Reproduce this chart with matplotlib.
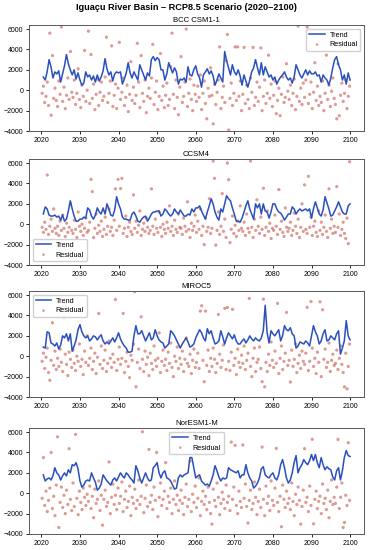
import numpy as np
import matplotlib
matplotlib.use("Agg")
import matplotlib.pyplot as plt
import matplotlib as mpl

mpl.rcParams['font.family'] = ['Liberation Sans', 'DejaVu Sans']
mpl.rcParams['xtick.labelsize'] = 5
mpl.rcParams['ytick.labelsize'] = 5
mpl.rcParams['xtick.major.size'] = 2.5
mpl.rcParams['ytick.major.size'] = 2.5
mpl.rcParams['xtick.major.width'] = 0.6
mpl.rcParams['ytick.major.width'] = 0.6
mpl.rcParams['xtick.major.pad'] = 1.5
mpl.rcParams['ytick.major.pad'] = 1.5
mpl.rcParams['axes.linewidth'] = 0.7
mpl.rcParams['axes.edgecolor'] = '0.35'

TITLE = "Iguaçu River Basin – RCP8.5 Scenario (2020–2100)"
models = ["BCC CSM1-1", "CCSM4", "MIROC5", "NorESM1-M"]
legend_loc = ["upper right", "lower left", "upper left", "upper center"]

# trend, half-year steps 2020.5 .. 2100.0
trend_bcc = [
    1300, 1000, 1800, 3000, 2300, 1200, 1800, 1600, 1900, 800,
    1600, 2400, 3500, 2600, 2000, 1500, 2000, 1100, 1700, 1000,
    500, 700, 1800, 1300, 1500, 1000, 1400, 800, 1500, 900,
    1300, 1900, 3100, 2100, 1500, 1800, 900, 1600, 1800, 1700,
    1800, 600, 1100, 1700, 2700, 1700, 1200, 1800, 1400, 1000,
    2500, 2000, 1500, 1000, 1700, 1400, 3000, 3300, 2900, 3200,
    3000, 2000, 2000, 1000, 1600, 2700, 2200, 1700, 2200, 1800,
    600, 1100, 1000, 1200, 800, 2300, 1500, 1400, 2000, 2400,
    1600, 1200, 300, 1500, 1800, 2100, 1600, 1900, 1400, 500,
    1000, 1600, 1200, 800, 3800, 2900, 2200, 1500, 2500, 1800,
    1500, 2000, 1400, 500, 1500, 900, 300, 1000, 1800, 2200,
    3000, 2200, 1500, 2700, 1500, 2300, 1800, 1300, 1500, 1000,
    1300, 600, 1000, 1300, 1500, 1800, 1300, 1000, 1200, 700,
    1300, 2500, 2000, 1500, 1200, 1600, 2000, 1500, 1900, 1600,
    1600, 1800, 1400, 1500, 800, 1500, 1200, 1000, 500, 1200,
    2200, 3000, 3300, 2500, 2000, 1000, 1500, 600, 1700, 1000,
]
trend_ccsm = [
    1000, 1700, 1500, 900, 800, 800, 900, 700, 800, 400,
    900, 300, 500, 1300, 2300, 1500, 800, 300, 300, 500,
    500, 700, 600, 1600, 1400, 800, 500, 900, 1600, 1200,
    1000, 1600, 1000, 2000, 1500, 900, 800, 1400, 2700, 2000,
    1500, 700, 500, 500, 400, 400, 1000, 1200, 800, 300,
    200, 500, 700, 800, 300, 600, 1000, 1200, 1200, 1300,
    1300, 800, 1000, 1500, 1300, 1000, 800, 1000, 1500, 1200,
    1000, 1400, 1100, 800, 800, 1000, 900, 1500, 1200, 1600,
    1600, 1800, 1300, 900, 500, 1200, 1800, 2500, 2000, 1200,
    700, 400, 1500, 1200, 2000, 2800, 2500, 2300, 1600, 1000,
    300, 300, 200, 600, 1200, 1800, 2300, 1500, 1000, 500,
    2000, 1600, 2000, 1000, 2000, 1300, 1200, 600, 1200, 2000,
    2000, 1500, 1200, 1100, 800, 400, 700, 1000, 1000, 1700,
    1500, 1000, 1300, 1500, 1300, 1400, 1500, 1300, 1500, 600,
    1500, 2200, 1600, 1000, 800, 1400, 2700, 2100, 1500, 800,
    900, 1300, 1700, 2200, 1700, 1200, 1000, 1000, 1800, 2000,
]
trend_miroc = [
    900, 800, 2400, 2300, 1300, 1200, 1000, 1300, 700, 1100,
    2000, 1800, 2200, 1500, 2200, 500, 1000, 1600, 2600, 3100,
    2400, 2000, 1800, 2000, 1500, 1700, 2000, 1900, 1600, 1900,
    2100, 1500, 1200, 1400, 1200, 1500, 1800, 1400, 1800, 2300,
    1700, 1300, 1000, 800, 400, 400, 500, 2000, 3000, 2200,
    2200, 2500, 2000, 1500, 1900, 2300, 1600, 1800, 2600, 2000,
    1600, 1400, 1300, 800, 1000, 1200, 2500, 2300, 2000, 1600,
    1200, 800, 1200, 1500, 1800, 1400, 900, 1000, 1200, 1800,
    2200, 2600, 2300, 1800, 1500, 2700, 2200, 2500, 1800, 1200,
    1300, 1500, 2500, 1900, 1200, 1800, 2300, 2000, 1700, 2100,
    1500, 1200, 1200, 1500, 1700, 1300, 1600, 2000, 1700, 1500,
    1800, 1600, 1500, 1800, 2500, 5000, 2300, 1300, 2500, 2200,
    2000, 2300, 2600, 1500, 2000, 3000, 2600, 2500, 2800, 2200,
    2000, 800, 1000, 1400, 1300, 1200, 1500, 1300, 1000, 2000,
    3000, 2400, 2000, 1200, 1500, 2200, 2600, 1500, 1600, 2000,
    1800, 1600, 2200, 2500, 200, 800, 1500, 3500, 2000, 1600,
]
trend_nor = [
    1800, 1200, 1400, 1500, 1300, 1700, 2500, 2000, 1800, 1300,
    1700, 2000, 1700, 2300, 2000, 2800, 2700, 3000, 2400, 1200,
    600, 800, 1200, 1300, 1200, 2000, 1500, 1100, 300, 500,
    900, 1800, 1500, 1200, 1000, 800, 1300, 1500, 1200, 1600,
    2000, 1700, 1500, 2000, 1800, 1500, 1300, 1000, 2700, 2200,
    1500, 1000, 1500, 2000, 1500, 1200, 1300, 2500, 2700, 3000,
    2000, 1500, 2000, 2200, 1500, 1400, 1200, 800, 400, 500,
    1500, 1800, 1600, 1800, 1900, 2000, 3500, 3500, 2500, 1500,
    1700, 1800, 1200, 1000, 800, 900, 700, 1200, 1800, 2700,
    2200, 1600, 1200, 1500, 1400, 1500, 2500, 2300, 2200, 2100,
    2000, 2200, 1500, 1800, 1800, 2800, 2000, 1500, 1200, 500,
    700, 1000, 1500, 2400, 2600, 1800, 1600, 1500, 1800, 2000,
    1500, 1300, 1800, 2800, 3300, 2500, 1500, 1000, 1300, 2000,
    3000, 3700, 2000, 2500, 2800, 3300, 3000, 2800, 3200, 3800,
    3200, 3800, 3000, 2500, 3500, 2800, 2300, 2600, 2400, 2300,
    1600, 1300, 2200, 2500, 1300, 2200, 3500, 4200, 3700, 3600,
]

# residuals, one point every 4 months from 2020.2
resid_bcc = [
    -300, 400, -1200, -600, 800, -1500, 5600, -2450, 3400, -800, 200, -1000,
    -1600, 900, -400, 6200, -1100, 300, -1800, -500, 1200, -900, 3800, -200,
    -700, 1000, -1400, -300, 2100, -900, -1700, 500, -600, 3900, -1100, 0,
    5800, -1300, 3500, -800, 600, -1900, -400, 1100, -1500, -200, 800, -1000,
    -600, 1300, 5200, -1200, -300, 900, 4350, -1600, -500, 600, -1800, 200,
    4700, -900, -200, 1200, -1500, -700, 500, -2100, -400, 2800, -1000, 300,
    -1300, -500, 4600, 800, -1700, 3400, -300, -1100, 1000, -2200, -600, 200,
    -800, 1200, 4500, -1400, -200, 900, -1900, -600, 3600, -1000, 400, -1700,
    -500, 700, -1500, -900, 2300, 5600, -400, -1800, 1000, -700, -2400, 300,
    3300, -1200, -600, 800, 6000, -1600, -300, 1100, -900, -2000, 500, -400,
    -1100, 400, -700, 1500, -1900, -300, 900, -1300, -2800, 200, -600, 2200,
    -500, -3300, 600, -1400, -200, 1000, 4250, -1800, -700, 400, -1200, 2900,
    5470, -3900, -800, 700, -1500, -300, 4250, -1000, 4250, -600, 900, -2000,
    -400, 4200, -1300, 500, -900, -1800, 1200, -200, 4200, -1500, -700, 800,
    -1100, 300, 4150, -2000, -600, 1000, -1300, -300, 3440, -800, 600, -1600,
    -500, 900, -2300, -1000, 200, -2500, -400, 1300, -1200, -700, 2600, -100,
    -900, 500, -1500, -300, 1100, -1900, -600, 6300, -1100, 200, -1400, 700,
    -700, 1000, 6200, -1300, -400, 800, -1800, -200, 2700, -1000, 400, -1500,
    -600, -1200, 900, -2000, -300, 3440, -900, 500, -1600, -100, 1200, -800,
    -1400, -2800, 2600, -2500, -500, 700, -1100, -300, 1000, -1800, -600, 400,
]
resid_ccsm = [
    -300, -800, 200, -500, 4830, -1000, -200, 500, -700, 1500, -400, -900,
    -200, -1100, 300, -600, 900, -400, -1200, 100, -800, -300, 2000, -600,
    -900, 400, -500, -1300, 1200, -200, -700, 0, -1100, -400, 600, -800,
    -600, 200, 4400, 3200, -1300, -400, 1000, -900, -100, -700, 300, -1200,
    -500, 700, -1000, -200, 1500, -700, -300, -1100, 400, 3470, -600, 4400,
    -200, 3500, 4500, -900, -400, 800, -1200, -300, 200, -700, -1000, 2880,
    -400, 300, -800, -100, 1300, -1100, -500, 100, -700, 600, -300, -900,
    -600, 3470, -200, -1000, 500, -400, -800, 1200, -300, -1200, 0, -500,
    -900, 200, -400, 1800, -700, -200, -1100, 400, -500, -800, 1000, -300,
    -400, -1000, 600, -200, -700, 2200, -500, -1300, 100, -600, -200, 900,
    -800, 300, -500, 1500, -1100, -200, -2000, 600, -700, -300, 2500, -900,
    -400, 6200, 4500, -2050, -600, 1200, -1000, -200, 3000, -700, 500, -1300,
    6000, 4370, -1800, -500, 800, -900, -100, -1200, 300, -600, 1800, -400,
    -700, 200, -1100, 1000, -400, -800, 6200, -300, -1300, 500, -600, 2400,
    -200, -900, 700, -500, 3530, -1100, -300, 1300, -700, 100, -1400, -400,
    -600, 900, -200, -1000, 3400, -500, 300, -800, -1200, 1600, -300, -700,
    -400, 200, -1100, -600, 1100, -200, -900, 500, -1300, -300, 2000, -700,
    3860, -500, -900, 4700, -300, 700, -1100, -200, 300, -800, -1200, 1300,
    -600, 200, -1000, -300, 900, -700, -1300, 3470, -400, 500, -900, -200,
    -800, 3700, -300, 1000, -1100, -500, 200, -900, -1400, 600, -1900, 6130,
]
resid_miroc = [
    -500, 300, -1200, -100, 800, -1600, -2360, -400, 3280, -900, 500, -1300,
    -200, -1000, 700, -600, -1500, 3870, 200, -800, -1900, 400, -300, -1100,
    600, -700, -1400, 0, -500, 1200, -1000, -300, -1800, 500, -600, 2000,
    -900, -200, 800, -1300, -500, 300, -1700, -100, 4200, -800, 1000, -1200,
    -400, 600, -1500, -700, 1500, -200, -1100, 200, -600, 5570, -1400, -300,
    900, -800, -200, 4200, -1600, -500, 400, -1000, -2100, 100, -400, 1200,
    6330, -3000, -600, 700, -1200, 3870, -300, -1500, 500, -800, -100, -1900,
    300, -700, -1300, 1000, -400, -1000, -200, 2300, -1600, -500, 600, -900,
    -300, -1400, 400, -700, 1300, -1100, -2000, 0, -500, 900, -1200, -200,
    -800, 500, -1500, -300, 1800, -700, -1000, 200, -1700, -400, 700, -1100,
    -600, 300, -1200, 4430, 4950, -400, -2500, 4430, -900, 600, -1500, -200,
    -1000, 800, -300, -1600, -700, 4100, 200, -1100, -400, 1100, 4700, -1300,
    4780, -500, -1400, 400, 4600, -900, -200, -1800, 700, -600, -1100, 100,
    -700, 1000, -1300, -400, 300, 5670, -1000, -2000, -200, 800, -1500, -600,
    -300, 900, -1200, -2500, 5600, -3000, -600, -1500, 200, -900, 1400, -400,
    -1100, 500, -700, 5180, -1700, -200, 1000, -1300, -500, 300, 4300, -900,
    -400, -2530, 600, -1000, -300, 1200, -1600, -700, 100, -1200, 500, -500,
    -800, 300, 4800, -1400, -500, 5370, 800, -1000, -200, -1700, 400, -600,
    5340, -2000, 4560, -300, 700, -1100, -600, 1300, -1500, -400, 200, -900,
    -700, 600, -1300, -200, 1000, -800, -1600, -3000, 300, -3200, -1000, 1200,
]
resid_nor = [
    -500, 3500, -1200, 200, -1800, -700, 500, 4000, -1500, -300, -2200, 800,
    5540, -3360, -900, 600, -1400, -200, -2000, 300, -1100, 4370, -600, -1700,
    1000, -1300, 5770, -500, -2100, 200, -900, -1600, 500, -400, -1200, -100,
    -800, 700, -1500, -300, -2400, 400, -1000, -600, 1200, -1700, -200, -3130,
    -600, 300, -1300, -900, 3070, -2000, -400, 900, -1100, -200, -1600, 500,
    -1000, -300, 1100, -1800, -600, 200, -1400, -800, 700, -2200, -400, -1000,
    400, -1500, -700, 1300, -1100, -300, 6030, -1900, -500, 800, -1300, 4300,
    -900, -200, -1600, 600, -700, 4000, -2300, -400, 1000, -1200, -600, 200,
    3000, -1500, -300, -900, 500, -2000, -600, 1200, -1100, -200, -1700, -700,
    300, -1000, -2100, -400, 900, -1300, -600, 3160, -1800, -100, -900, 700,
    -1400, -500, 1500, -2200, -800, 200, -1100, -300, -1600, 600, -900, -2000,
    -3030, 400, -700, -1300, 1000, -400, -2100, -1000, 100, -600, -1500, 800,
    -900, -300, -1700, 5020, -600, 600, 4700, -1200, -2000, 200, -800, -1400,
    4730, -500, 900, -1300, -2920, -700, 300, -1600, -1000, 1100, -400, -2100,
    -800, 400, -1400, 4530, -600, -2200, 700, -1000, -300, -1700, 1200, -700,
    -1200, 500, 4400, -900, -1800, -300, -3290, 800, -600, -1400, 200, -1000,
    -500, -1600, 1000, -800, -2200, -100, -1100, 600, -700, -3030, -1300, 300,
    4370, -900, -400, -1800, 700, -1200, 5290, -3000, -600, 200, -1500, -800,
    -300, -2000, 900, -1000, -500, -1600, 300, -2400, -800, 1300, -1100, -400,
    -1000, 600, 5280, -1500, -400, 1000, -3360, -2870, -200, -1200, 4960, -700,
]

trends = [trend_bcc, trend_ccsm, trend_miroc, trend_nor]
resids = [resid_bcc, resid_ccsm, resid_miroc, resid_nor]

t_trend = 2020.5 + np.arange(len(trend_bcc)) * 0.5
t_resid = 2020.2 + np.arange(len(resid_bcc)) / 3.0

fig = plt.figure(figsize=(3.71, 5.5), dpi=100)
fig.suptitle(TITLE, fontsize=6.6, fontweight='bold', x=0.502, y=0.995)

W, H = 550.0, 371.0
tops = [25, 159, 291, 428]
for i, name in enumerate(models):
    top = tops[i]
    ax = fig.add_axes([29 / H, 1 - (top + 106) / W, 335 / H, 106 / W])
    ax.plot(t_trend, trends[i], color='#2a50bd', lw=1.1, label='Trend', zorder=3)
    ax.scatter(t_resid, resids[i], s=5.5, color='#c24a3c', alpha=0.55,
               edgecolors='none', label='Residual', zorder=2)
    ax.set_xlim(2016.8, 2103.6)
    ax.set_ylim(-4000, 6400)
    ax.set_xticks(range(2020, 2101, 10))
    ax.set_yticks(range(-4000, 6001, 2000))
    ax.set_title(name, fontsize=5.6, pad=2)
    ax.legend(loc=legend_loc[i], fontsize=5.2, handlelength=2.2,
              borderpad=0.4, labelspacing=0.4, handletextpad=0.6,
              markerscale=0.8, framealpha=0.9)

fig.savefig('out.png', dpi=100)
